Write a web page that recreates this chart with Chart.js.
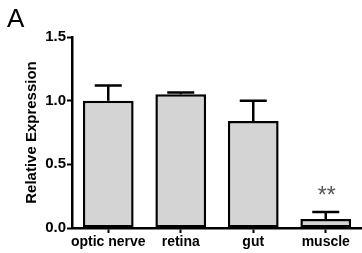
<!DOCTYPE html>
<html>
<head>
<meta charset="utf-8">
<script src="https://cdn.jsdelivr.net/npm/chart.js@4"></script>
<style>
  html, body { margin: 0; padding: 0; background: #fff; }
  #wrap { width: 362px; height: 253px; }
</style>
</head>
<body>
<div id="wrap"><canvas id="myChart" width="362" height="253"></canvas></div>
<script>
const tissues = ["optic nerve", "retina", "gut", "muscle"]
const expression = [1.0, 1.05, 0.84, 0.07]
const errorTop = [1.12, 1.065, 1.0, 0.125]
const yTicks = [0, 0.5, 1.0, 1.5]
const marks = ["", "", "", "**"]

const font = "'Liberation Sans', Arial, sans-serif"

const extras = {
  id: "extras",
  afterDatasetsDraw: function (chart) {
    const ctx = chart.ctx
    const x = chart.scales.x
    const y = chart.scales.y
    ctx.save()
    ctx.strokeStyle = "#000"
    ctx.lineWidth = 2.5
    for (let i = 0; i < tissues.length; i++) {
      const cx = x.getPixelForValue(i)
      const top = y.getPixelForValue(errorTop[i])
      const base = y.getPixelForValue(expression[i])
      ctx.beginPath()
      ctx.moveTo(cx, base)
      ctx.lineTo(cx, top)
      ctx.moveTo(cx - 13.5, top)
      ctx.lineTo(cx + 13.5, top)
      ctx.stroke()
      if (marks[i]) {
        ctx.fillStyle = "#555"
        ctx.font = "23px " + font
        ctx.textAlign = "center"
        ctx.textBaseline = "middle"
        ctx.fillText(marks[i], cx + 1, top - 15)
      }
    }
    // panel letter
    ctx.fillStyle = "#000"
    ctx.font = "26px " + font
    ctx.textAlign = "left"
    ctx.textBaseline = "alphabetic"
    ctx.fillText("A", 7, 27)
    ctx.restore()
  },
}

const ctx = document.getElementById("myChart").getContext("2d")
const myChart = new Chart(ctx, {
  type: "bar",
  data: {
    labels: tissues,
    datasets: [
      {
        data: expression,
        backgroundColor: "#d4d4d4",
        borderColor: "#000",
        borderWidth: 2.5,
        borderSkipped: false,
        categoryPercentage: 1,
        barPercentage: 0.7,
      },
    ],
  },
  options: {
    responsive: false,
    animation: false,
    layout: { padding: { top: 37, right: 0, left: 23, bottom: 0 } },
    plugins: {
      legend: { display: false },
      tooltip: { enabled: false },
    },
    scales: {
      x: {
        grid: {
          offset: false,
          drawOnChartArea: false,
          drawTicks: true,
          tickLength: 5,
          tickWidth: 2,
          color: "#000",
        },
        border: { color: "#000", width: 2.5 },
        ticks: {
          color: "#000",
          padding: 1,
          maxRotation: 0,
          minRotation: 0,
          autoSkip: false,
          font: { family: font, size: 14, weight: "bold" },
        },
        afterFit: function (scale) {
          scale.height = 25
        },
      },
      y: {
        min: 0,
        max: 1.5,
        afterBuildTicks: function (scale) {
          scale.ticks = yTicks.map((v) => ({ value: v }))
        },
        grid: {
          drawOnChartArea: false,
          tickLength: 5,
          tickWidth: 2,
          color: "#000",
        },
        border: { color: "#000", width: 2.5 },
        ticks: {
          color: "#000",
          padding: 1,
          font: { family: font, size: 15, weight: "bold" },
          callback: (v) => Number(v).toFixed(1),
        },
        title: {
          display: true,
          text: "Relative Expression",
          color: "#000",
          padding: 0,
          font: { family: font, size: 15, weight: "bold" },
        },
        afterFit: function (scale) {
          scale.width = 49
        },
      },
    },
  },
  plugins: [extras],
})
</script>
</body>
</html>
